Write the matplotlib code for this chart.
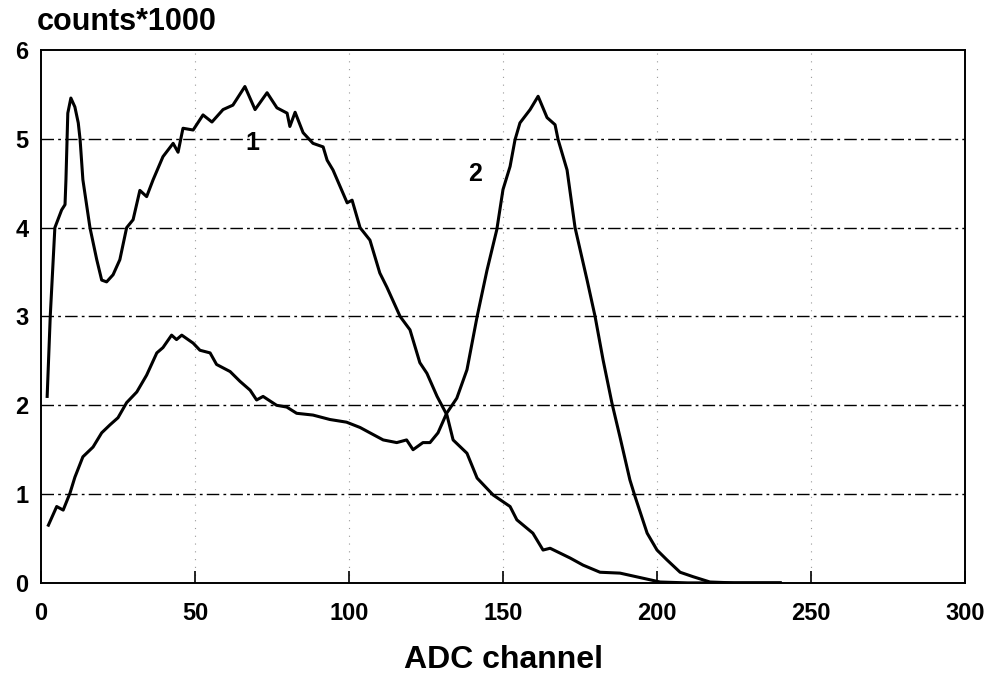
import matplotlib
matplotlib.use('Agg')
from matplotlib import pyplot as plt

# curve 1
x1 = [2, 3, 4.5, 6.7, 7.8, 8.1, 8.7, 9.7, 11, 12.1, 12.7, 13.6, 15.9, 18.1, 19.7,
      21.3, 23.4, 25.6, 27.8, 29.9, 32.1, 34.3, 36.4, 39.6, 42.9, 44.5, 46.1, 49.4,
      52.6, 55.5, 59.1, 62.3, 66.2, 69.5, 73.4, 76.6, 79.9, 80.8, 82.5, 85.1, 88.3,
      91.6, 92.9, 94.8, 99.4, 101, 103.6, 106.8, 110, 112.3, 116.6, 119.8, 123,
      125.3, 128.6, 131.8, 133.8, 138.3, 141.6, 146.8, 152.3, 154.5, 159.7, 163,
      165.3, 171.8, 176, 181.5, 188, 194.5, 201, 210, 225, 240]
y1 = [2.1, 3.0, 4.0, 4.2, 4.26, 4.54, 5.29, 5.46, 5.36, 5.18, 4.99, 4.54, 4.0, 3.64,
      3.41, 3.39, 3.47, 3.64, 4.0, 4.09, 4.42, 4.35, 4.54, 4.8, 4.95, 4.85, 5.12, 5.1,
      5.27, 5.19, 5.33, 5.38, 5.59, 5.33, 5.52, 5.35, 5.29, 5.14, 5.3, 5.07, 4.95,
      4.91, 4.76, 4.65, 4.28, 4.31, 4.0, 3.86, 3.49, 3.33, 3.0, 2.85, 2.48, 2.36,
      2.1, 1.89, 1.61, 1.46, 1.18, 0.99, 0.86, 0.71, 0.56, 0.37, 0.39, 0.28, 0.2,
      0.12, 0.11, 0.06, 0.01, 0.0, 0.0, 0.0]

# curve 2
x2 = [2.4, 5.1, 7.2, 9.4, 11, 13.6, 16.9, 19.7, 22.4, 25, 27.8, 31.1, 34.3, 37.6,
      39.6, 42.4, 44, 45.7, 49.4, 51.6, 54.9, 57, 61.4, 64.6, 67.9, 70, 72.1, 76.5,
      79.8, 83, 88.3, 93.8, 99.2, 103.6, 106.8, 111.1, 115.5, 118.7, 120.8, 124,
      126.3, 128.9, 131.7, 135, 138.3, 141.6, 144.8, 148, 150, 152.3, 153.9, 155.5,
      158.8, 161.4, 164.3, 166.9, 167.9, 170.8, 173.4, 177.3, 179.9, 182.5, 185.4,
      188, 191.2, 192.9, 196.8, 200, 203.2, 207.5, 211.7, 217.2, 225, 240]
y2 = [0.65, 0.86, 0.82, 1.01, 1.19, 1.42, 1.53, 1.69, 1.78, 1.86, 2.03, 2.15, 2.34,
      2.59, 2.65, 2.79, 2.74, 2.79, 2.7, 2.62, 2.59, 2.46, 2.38, 2.27, 2.17, 2.06,
      2.1, 2.0, 1.98, 1.91, 1.89, 1.84, 1.81, 1.75, 1.69, 1.61, 1.58, 1.61, 1.5,
      1.58, 1.58, 1.69, 1.91, 2.08, 2.4, 3.0, 3.52, 3.98, 4.43, 4.69, 4.99, 5.18,
      5.33, 5.48, 5.24, 5.16, 4.99, 4.65, 4.0, 3.41, 3.0, 2.51, 2.02, 1.64, 1.16,
      0.97, 0.56, 0.37, 0.26, 0.12, 0.07, 0.01, 0.0, 0.0]

x_ticks = [0, 50, 100, 150, 200, 250, 300]
y_ticks = [0, 1, 2, 3, 4, 5, 6]

plt.rcParams['font.family'] = ['Liberation Sans', 'DejaVu Sans']
plt.rcParams['font.weight'] = 'bold'

fig = plt.figure(figsize=(10, 6.77), dpi=100)
ax = fig.add_axes([0.041, 0.139, 0.924, 0.787])

for yv in y_ticks[1:-1]:
    ax.axhline(yv, color='black', lw=1.0, ls=(0, (9, 3, 2, 3)), zorder=1)
for xv in x_ticks[1:-1]:
    ax.axvline(xv, color='#999999', lw=0.8, ls=(0, (1, 6)), zorder=1)

ax.plot(x1, y1, color='black', lw=2.2, zorder=3)
ax.plot(x2, y2, color='black', lw=2.2, zorder=3)

ax.text(68.5, 4.95, '1', fontsize=18, fontweight='bold', ha='center', va='center')
ax.text(141, 4.6, '2', fontsize=18, fontweight='bold', ha='center', va='center')

ax.set_xlim(0, 300)
ax.set_ylim(0, 6)
ax.set_xticks(x_ticks)
ax.set_yticks(y_ticks)
ax.tick_params(axis='x', direction='in', length=9, width=1.2, labelsize=17, pad=14)
ax.tick_params(axis='y', direction='in', length=0, labelsize=17, pad=9)
for lab in ax.get_xticklabels() + ax.get_yticklabels():
    lab.set_fontweight('bold')
for sp in ax.spines.values():
    sp.set_linewidth(1.4)

ax.set_xlabel('ADC channel', fontsize=23, fontweight='bold', labelpad=14)
fig.text(0.037, 0.967, 'counts*1000', fontsize=22, fontweight='bold',
         ha='left', va='center')

fig.savefig('out.png', dpi=100)
